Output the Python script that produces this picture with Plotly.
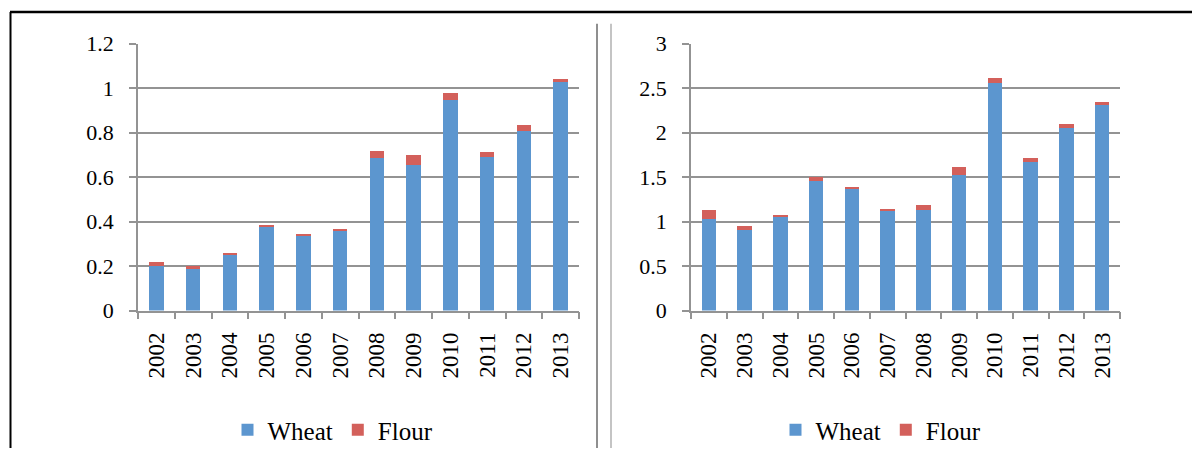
import plotly.graph_objects as go

years = ["2002", "2003", "2004", "2005", "2006", "2007", "2008", "2009", "2010", "2011", "2012", "2013"]
left_wheat = [0.199, 0.188, 0.254, 0.375, 0.340, 0.362, 0.687, 0.653, 0.945, 0.690, 0.809, 1.027]
left_flour = [0.021, 0.012, 0.003, 0.011, 0.004, 0.004, 0.030, 0.044, 0.031, 0.021, 0.026, 0.015]
right_wheat = [1.027, 0.909, 1.057, 1.454, 1.372, 1.127, 1.135, 1.520, 2.559, 1.672, 2.054, 2.314]
right_flour = [0.100, 0.044, 0.011, 0.052, 0.015, 0.011, 0.052, 0.089, 0.059, 0.045, 0.045, 0.026]

BLUE = "#5C96CF"
RED = "#D3605B"
FONT = "Liberation Serif"
OFF = 8  # page body margin
W, H = 1200 - OFF, 453 - OFF

fig = go.Figure()
fig.add_trace(go.Bar(x=years, y=left_wheat, name="Wheat", marker_color=BLUE,
                     xaxis="x", yaxis="y", legend="legend"))
fig.add_trace(go.Bar(x=years, y=left_flour, name="Flour", marker_color=RED,
                     xaxis="x", yaxis="y", legend="legend"))
fig.add_trace(go.Bar(x=years, y=right_wheat, name="Wheat", marker_color=BLUE,
                     xaxis="x2", yaxis="y2", legend="legend2"))
fig.add_trace(go.Bar(x=years, y=right_flour, name="Flour", marker_color=RED,
                     xaxis="x2", yaxis="y2", legend="legend2"))

def px(x):
    return (x - OFF) / W

def py(y):
    return 1 - (y - OFF) / H

ydom = [py(314), py(44)]
grid = "#939393"
xcommon = dict(type="category", showline=True, linecolor=grid, linewidth=1.5,
               ticks="outside", tickson="boundaries", ticklen=7, tickcolor=grid,
               tickwidth=1.5, tickangle=-90, showgrid=False, automargin=False,
               ticklabelstandoff=11,
               tickfont=dict(family=FONT, size=23, color="#000"))
ycommon = dict(showline=True, linecolor=grid, linewidth=1.5, showgrid=True,
               gridcolor=grid, gridwidth=1.5, ticks="outside", ticklen=7,
               tickcolor=grid, tickwidth=1.5, zeroline=False, automargin=False,
               ticklabelstandoff=11,
               tickfont=dict(family=FONT, size=22, color="#000"))

legcommon = dict(orientation="h", xanchor="center", yanchor="middle", y=py(435),
                 font=dict(family=FONT, size=25, color="#000"), borderwidth=0,
                 bgcolor="rgba(0,0,0,0)", traceorder="normal",
                 itemwidth=30, tracegroupgap=0)

fig.update_layout(
    template="none",
    width=W, height=H, margin=dict(l=0, r=0, t=0, b=0, pad=0), autosize=False,
    paper_bgcolor="white", plot_bgcolor="white",
    barmode="stack", bargap=0.6,
    xaxis=dict(domain=[px(138), px(579)], anchor="y", **xcommon),
    yaxis=dict(domain=ydom, anchor="x", range=[0, 1.2],
               tickvals=[0, 0.2, 0.4, 0.6, 0.8, 1, 1.2],
               ticktext=["0", "0.2", "0.4", "0.6", "0.8", "1", "1.2"], **ycommon),
    xaxis2=dict(domain=[px(691), px(1120)], anchor="y2", **xcommon),
    yaxis2=dict(domain=ydom, anchor="x2", range=[0, 3],
                tickvals=[0, 0.5, 1, 1.5, 2, 2.5, 3],
                ticktext=["0", "0.5", "1", "1.5", "2", "2.5", "3"], **ycommon),
    legend=dict(x=px(333), **legcommon),
    legend2=dict(x=px(881), **legcommon),
    showlegend=True,
)

shapes = [
    dict(type="line", xref="paper", yref="paper", x0=px(10), x1=1, y0=py(12), y1=py(12),
         line=dict(color="black", width=2.5)),
    dict(type="line", xref="paper", yref="paper", x0=px(10.5), x1=px(10.5), y0=py(12), y1=0,
         line=dict(color="black", width=2)),
    dict(type="line", xref="paper", yref="paper", x0=px(597), x1=px(597), y0=py(24), y1=0,
         line=dict(color="#6a6a6a", width=1.5)),
    dict(type="line", xref="paper", yref="paper", x0=px(611), x1=px(611), y0=py(24), y1=0,
         line=dict(color="#b0b0b0", width=1.5)),
]
fig.update_layout(shapes=shapes)

fig.write_html("out.html")
